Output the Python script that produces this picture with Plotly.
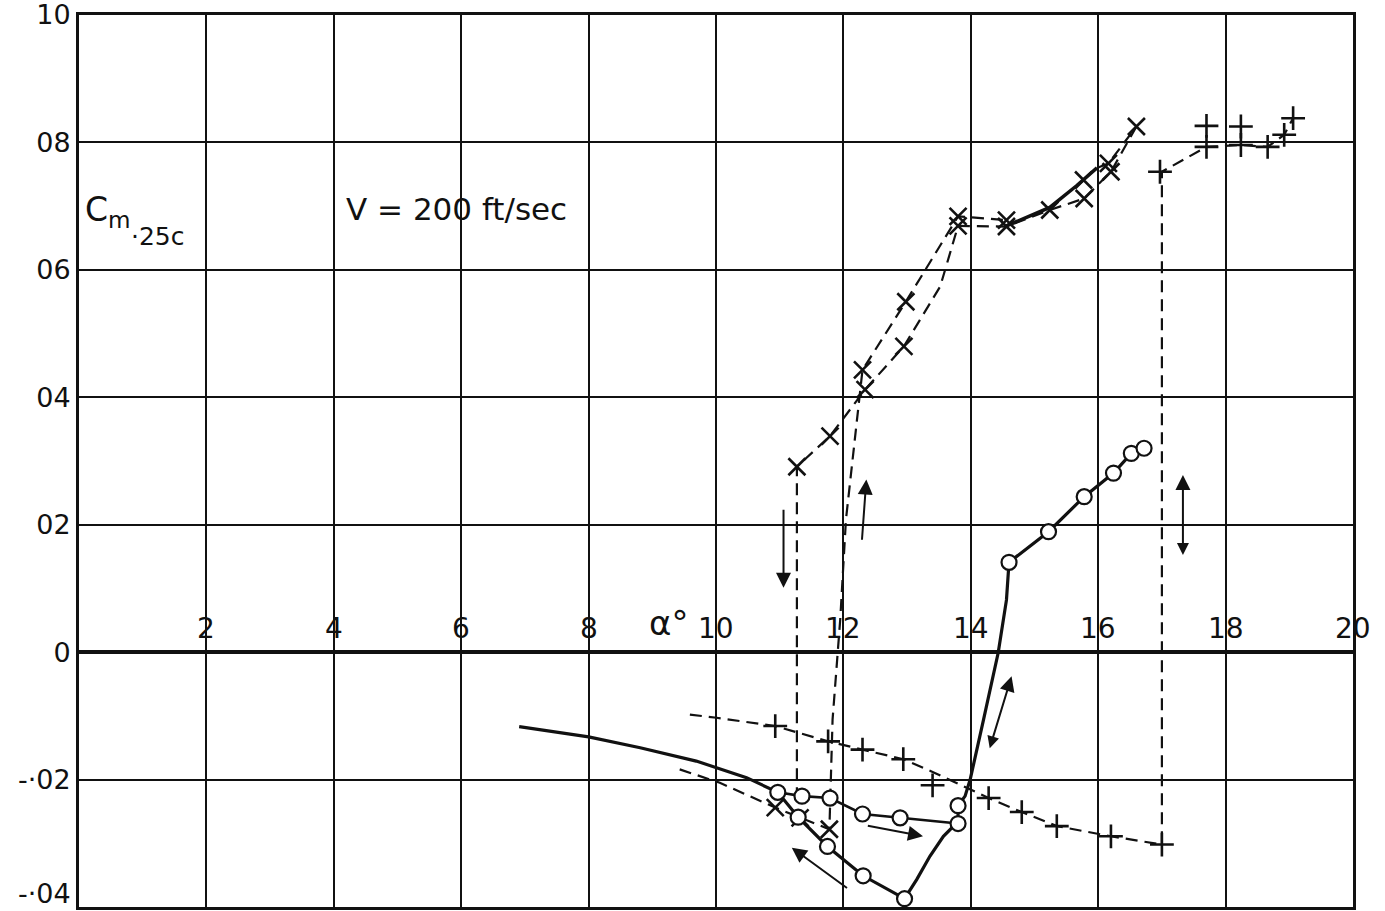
import plotly.graph_objects as go

# ---------------- data ----------------
# open circles (solid curves)
circ_x = [10.97, 11.35, 11.79, 12.30, 12.89, 13.80, 13.80, 11.29, 11.75, 12.31, 12.96,
          14.60, 15.22, 15.78, 16.24, 16.52, 16.72]
circ_y = [-0.0220, -0.0226, -0.0229, -0.0254, -0.0260, -0.0269, -0.0241, -0.0259, -0.0305,
          -0.0351, -0.0387, 0.0141, 0.0189, 0.0244, 0.0281, 0.0312, 0.0320]

# main solid curve (lead-in, lower loop, steep rise, upper branch)
solid_main_x = [6.91, 8.00, 8.81, 9.69, 10.48, 10.97, 11.29, 11.75, 12.31, 12.96, 13.15, 13.36,
                13.57, 13.73, 13.80, 13.80, 13.91, 13.99, 14.20, 14.43, 14.56, 14.60, 15.22,
                15.78, 16.24, 16.52, 16.72]
solid_main_y = [-0.0117, -0.0133, -0.0150, -0.0171, -0.0197, -0.0220, -0.0259, -0.0305, -0.0351,
                -0.0387, -0.0357, -0.0320, -0.0289, -0.0273, -0.0269, -0.0241, -0.0226, -0.0200,
                -0.0106, -0.0001, 0.0082, 0.0141, 0.0189, 0.0244, 0.0281, 0.0312, 0.0320]

# solid upper branch of the circle loop
solid_upper_x = [10.97, 11.35, 11.79, 12.30, 12.89, 13.80]
solid_upper_y = [-0.0220, -0.0226, -0.0229, -0.0254, -0.0260, -0.0269]

# short solid segment through the x-marked points
solid_xseg_x = [14.56, 15.24, 15.66, 15.98]
solid_xseg_y = [0.0669, 0.0698, 0.0732, 0.0760]

# x-marked points
xm_x = [10.93, 11.32, 11.78, 11.27, 11.79, 12.30, 12.34, 12.98, 12.95, 13.80, 13.80, 14.56,
        14.56, 15.24, 15.77, 15.78, 16.16, 16.20, 16.60]
xm_y = [-0.0244, -0.0260, -0.0278, 0.0291, 0.0339, 0.0443, 0.0412, 0.0550, 0.0480, 0.0684,
        0.0669, 0.0678, 0.0668, 0.0694, 0.0741, 0.0712, 0.0767, 0.0754, 0.0825]

# dashed path, increasing alpha (x-marked)
xinc_x = [9.43, 10.06, 10.93, 11.32, 11.78, 11.83, 11.95, 12.04, 12.21, 12.30, 12.98, 13.80, 14.56]
xinc_y = [-0.0184, -0.0205, -0.0244, -0.0260, -0.0278, -0.0106, 0.0051, 0.0208, 0.0365, 0.0443,
          0.0550, 0.0684, 0.0678]
xinc2_x = [15.98, 16.16, 16.60]
xinc2_y = [0.0760, 0.0767, 0.0825]

# dashed path, decreasing alpha (x-marked)
xdec_x = [16.60, 16.20, 15.78, 15.24, 14.56, 13.80, 13.52, 12.95, 12.34, 11.79, 11.27, 11.27]
xdec_y = [0.0825, 0.0754, 0.0712, 0.0694, 0.0668, 0.0669, 0.0574, 0.0480, 0.0412, 0.0339,
          0.0291, -0.0222]

# plus-marked points
pm_x = [10.93, 11.76, 12.30, 12.94, 13.40, 14.28, 14.80, 15.35, 16.20, 17.00,
        16.97, 17.70, 18.24, 17.70, 18.24, 18.66, 18.92, 19.06]
pm_y = [-0.0116, -0.0140, -0.0153, -0.0168, -0.0209, -0.0229, -0.0251, -0.0273, -0.0289, -0.0302,
        0.0754, 0.0826, 0.0825, 0.0793, 0.0796, 0.0793, 0.0812, 0.0838]

# dashed path through plus-marked points
plus_x = [9.59, 10.01, 10.93, 11.76, 12.30, 12.94, 13.40, 13.72, 14.28, 14.80, 15.35, 16.20,
          17.00, 17.00, 17.70, 18.24, 18.66, 18.92, 19.06]
plus_y = [-0.0098, -0.0103, -0.0116, -0.0140, -0.0153, -0.0168, -0.0188, -0.0203, -0.0229,
          -0.0251, -0.0273, -0.0289, -0.0302, 0.0754, 0.0793, 0.0796, 0.0793, 0.0812, 0.0838]

# direction arrows (tail -> head)
arr_tail_x = [11.06, 12.29, 17.33, 14.29, 12.36, 12.08]
arr_tail_y = [0.0226, 0.0174, 0.0150, -0.0153, -0.0272, -0.0372]
arr_head_x = [11.06, 12.36, 17.33, 14.64, 13.25, 11.19]
arr_head_y = [0.0101, 0.0271, 0.0278, -0.0038, -0.0289, -0.0307]
arr_side = ["end", "end", "end+start", "end+start", "end", "end"]

# axis ticks
x_ticks = [2, 4, 6, 8, 10, 12, 14, 16, 18, 20]
y_ticks = [0.10, 0.08, 0.06, 0.04, 0.02, 0.0, -0.02, -0.04]
y_ticktext = ["10", "08", "06", "04", "02", "0", "-·02", "-·04"]

INK = "#111111"
FONT = "DejaVu Sans"

fig = go.Figure()

dash = "12px,7px"

def line_trace(xs, ys, width, dashed):
    fig.add_trace(go.Scatter(x=xs, y=ys, mode="lines",
                             line=dict(color=INK, width=width, dash=dash if dashed else "solid"),
                             hoverinfo="skip", showlegend=False))

line_trace(plus_x, plus_y, 2.2, True)
line_trace(xinc_x, xinc_y, 2.2, True)
line_trace(xinc2_x, xinc2_y, 2.2, True)
line_trace(xdec_x, xdec_y, 2.2, True)
line_trace(solid_main_x, solid_main_y, 3.2, False)
line_trace(solid_upper_x, solid_upper_y, 2.6, False)
line_trace(solid_xseg_x, solid_xseg_y, 3.5, False)

fig.add_trace(go.Scatter(x=xm_x, y=xm_y, mode="markers",
                         marker=dict(symbol="x-thin", size=17, line=dict(color=INK, width=2.6)),
                         hoverinfo="skip", showlegend=False))
fig.add_trace(go.Scatter(x=pm_x, y=pm_y, mode="markers",
                         marker=dict(symbol="cross-thin", size=17, line=dict(color=INK, width=2.6)),
                         hoverinfo="skip", showlegend=False))
fig.add_trace(go.Scatter(x=circ_x, y=circ_y, mode="markers",
                         marker=dict(symbol="circle", size=15, color="white",
                                     line=dict(color=INK, width=2.2)),
                         hoverinfo="skip", showlegend=False))

annotations = []
for tx, ty, hx, hy, side in zip(arr_tail_x, arr_tail_y, arr_head_x, arr_head_y, arr_side):
    annotations.append(dict(x=hx, y=hy, ax=tx, ay=ty, xref="x", yref="y", axref="x", ayref="y",
                            text="", showarrow=True, arrowhead=2, startarrowhead=2,
                            arrowsize=1.5, startarrowsize=1.2, arrowwidth=2,
                            arrowcolor=INK, arrowside=side))

for t in x_ticks:
    annotations.append(dict(x=t, y=0, xref="x", yref="y", text=str(t), showarrow=False,
                            yanchor="bottom", yshift=5, font=dict(family=FONT, size=28, color=INK)))

# lowest y label sits at the very bottom edge: draw it just inside the page
axis_labels = y_ticktext[:-1] + [""]
annotations.append(dict(x=0, y=y_ticks[-1], xref="paper", yref="y", text=y_ticktext[-1],
                        showarrow=False, xanchor="right", yanchor="bottom", xshift=-6, yshift=-4,
                        font=dict(family=FONT, size=27, color=INK)))

annotations += [
    dict(x=5.93, y=0.0696, xref="x", yref="y", text="V = 200 ft/sec", showarrow=False,
         font=dict(family=FONT, size=31, color=INK)),
    dict(x=0.06, y=0.0692, xref="x", yref="y", text="C<sub>m</sub>", showarrow=False,
         xanchor="left", font=dict(family=FONT, size=33, color=INK)),
    dict(x=0.78, y=0.0652, xref="x", yref="y", text="·25c", showarrow=False,
         xanchor="left", font=dict(family=FONT, size=25, color=INK)),
    dict(x=9.25, y=0.0045, xref="x", yref="y", text="α°", showarrow=False,
         font=dict(family=FONT, size=34, color=INK)),
]

fig.update_layout(
    width=1385, height=911,
    margin=dict(l=79, r=32, t=15, b=4, autoexpand=False),
    paper_bgcolor="white", plot_bgcolor="white",
    annotations=annotations,
    xaxis=dict(range=[0, 20], dtick=2, tick0=0, showgrid=True, gridcolor=INK, gridwidth=2,
               showticklabels=False, ticks="", zeroline=False, automargin=False,
               showline=True, linecolor=INK, linewidth=3, mirror=True, fixedrange=True),
    yaxis=dict(range=[-0.04, 0.10], tickvals=y_ticks, ticktext=axis_labels,
               showgrid=True, gridcolor=INK, gridwidth=2, ticks="", automargin=False,
               zeroline=True, zerolinecolor=INK, zerolinewidth=3.5,
               showline=True, linecolor=INK, linewidth=3, mirror=True,
               ticklabeloverflow="allow",
               tickfont=dict(family=FONT, size=27, color=INK), fixedrange=True),
)

fig.write_html("out.html")
